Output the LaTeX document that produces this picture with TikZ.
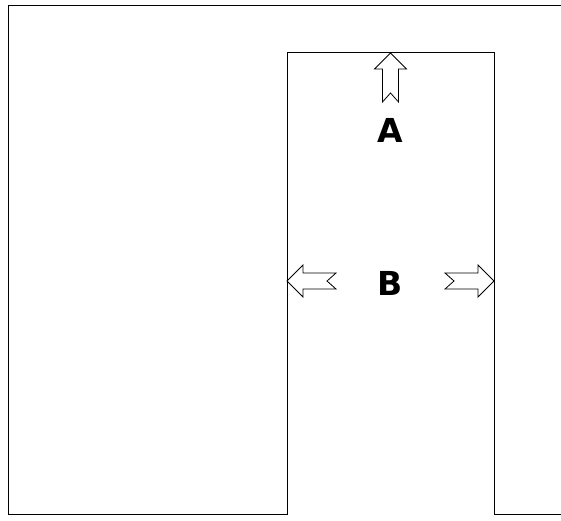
\documentclass[tikz,border=0pt]{standalone}
\usepackage{fontspec}
\setmainfont{DejaVu Sans}
\usetikzlibrary{positioning}

\begin{document}
\begin{tikzpicture}[x=1pt, y=1pt,
    wall/.style={draw=black, line width=1pt},
    blockarrow/.pic={
      \draw[line width=0.8pt, line join=miter, fill=white]
        (0,0) -- (-16,16) -- (-16,8) -- (-49,8) -- (-40,0)
        -- (-49,-8) -- (-16,-8) -- (-16,-16) -- cycle;
    },
    letter/.style={font=\fontsize{33}{33}\selectfont\bfseries, inner sep=0pt}]
    \useasboundingbox (0,0) rectangle (561,520);
    % outline with the raised middle part
    \draw[wall] (561,514.5) -- (8,514.5) -- (8,5.5) -- (287,5.5)
      -- (287,467) -- (494,467) -- (494,5.5) -- (561,5.5);
    % arrows
    \pic[rotate=90] (up) at (390.5,467) {blockarrow};
    \pic[rotate=180] (left) at (287,239) {blockarrow};
    \pic (right) at (494,239) {blockarrow};
    % labels
    \node[letter] (A) at (390.5,390) {A};
    \node[letter] (B) at (390.5,237) {B};
\end{tikzpicture}
\end{document}
